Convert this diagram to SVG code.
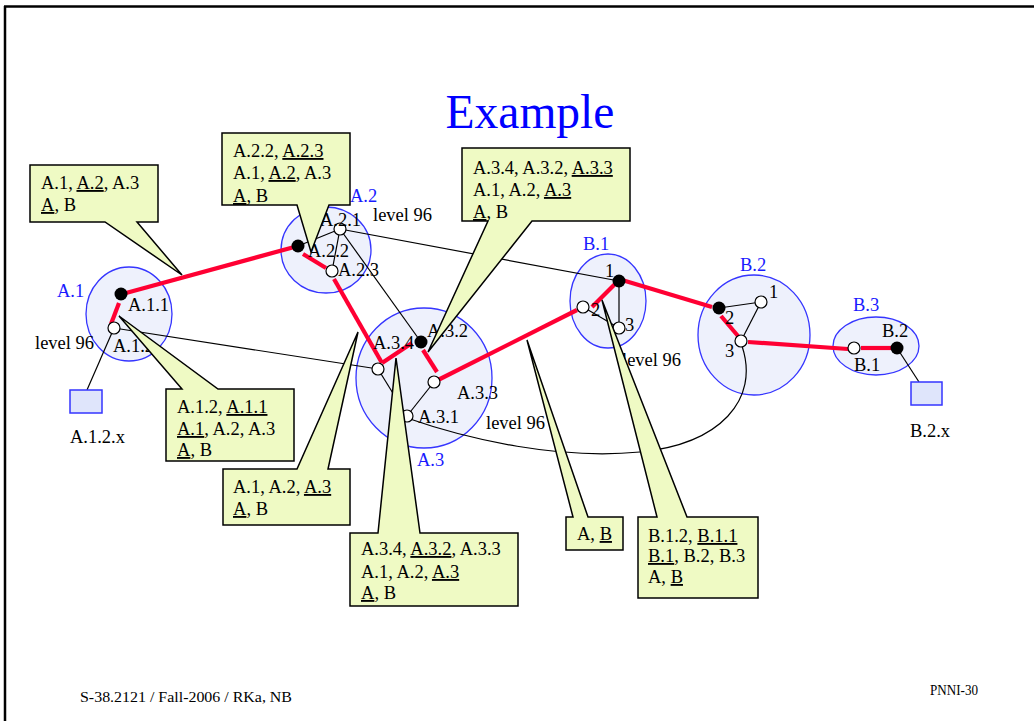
<svg xmlns="http://www.w3.org/2000/svg" width="1034" height="721" viewBox="0 0 1034 721">
<style>
text{font-family:"Liberation Serif","Times New Roman",serif;font-size:18.5px;fill:#000}
.blue{fill:#1a1aff}
.title{font-size:47.5px;fill:#0000ff}
.foot{font-size:14.5px}
.area{fill:#eef1fc;stroke:#3535ff;stroke-width:1.3}
.thin{stroke:#000;stroke-width:1.2;fill:none}
.red{stroke:#ff0033;stroke-width:4.2;fill:none}
.wn{fill:#fff;stroke:#000;stroke-width:1.2}
.bn{fill:#000}
.call{fill:#effac4;stroke:#000;stroke-width:1.5;stroke-linejoin:miter}
.host{fill:#dfe5fb;stroke:#3535ff;stroke-width:1.5}
.u{text-decoration:underline}
</style>
<rect width="1034" height="721" fill="#fff"/>
<g id="frame">
<line x1="4" y1="6.5" x2="1034" y2="6.5" stroke="#000" stroke-width="2.5"/>
<line x1="5" y1="6" x2="5" y2="721" stroke="#000" stroke-width="2.5"/>
</g>
<text class="title" x="530" y="128" text-anchor="middle">Example</text>

<g id="areas">
<ellipse id="A1" class="area" cx="129" cy="314" rx="43" ry="47"/>
<ellipse id="A2" class="area" cx="326" cy="250" rx="45" ry="43"/>
<ellipse id="A3" class="area" cx="424" cy="378" rx="68" ry="70"/>
<ellipse id="B1" class="area" cx="608" cy="301" rx="38" ry="47"/>
<ellipse id="B2" class="area" cx="754" cy="335" rx="56" ry="60"/>
<ellipse id="B3" class="area" cx="876" cy="346" rx="43" ry="29"/>
</g>

<g id="connectors">
<line class="thin" x1="114" y1="328" x2="87" y2="390"/>
<line class="thin" x1="114" y1="328" x2="378" y2="369"/>
<line class="thin" x1="298" y1="246" x2="340" y2="229"/>
<line class="thin" x1="340" y1="229" x2="332" y2="271"/>
<line class="thin" x1="340" y1="229" x2="421" y2="342"/>
<line class="thin" x1="340" y1="229" x2="619" y2="281"/>
<line class="thin" x1="378" y1="369" x2="407" y2="416"/>
<line class="thin" x1="434" y1="382" x2="407" y2="416"/>
<path class="thin" d="M407 418 C470 440 560 460 640 452 C720 444 760 400 742 346"/>
<line class="thin" x1="619" y1="281" x2="619" y2="328"/>
<line class="thin" x1="583" y1="307" x2="619" y2="328"/>
<line class="thin" x1="719" y1="308" x2="761" y2="302"/>
<line class="thin" x1="761" y1="302" x2="741" y2="341"/>
<line class="thin" x1="897" y1="348" x2="919" y2="382"/>

<line class="red" x1="119" y1="303" x2="111" y2="324"/>
<line class="red" x1="126" y1="293" x2="298" y2="246"/>
<line class="red" x1="303" y1="254" x2="326" y2="268"/>
<line class="red" x1="334" y1="279" x2="382" y2="363"/>
<line class="red" x1="382" y1="363" x2="412" y2="343"/>
<line class="red" x1="423" y1="350" x2="437" y2="372"/>
<line class="red" x1="438" y1="380" x2="577" y2="310"/>
<line class="red" x1="592" y1="307" x2="615" y2="284"/>
<line class="red" x1="622" y1="280" x2="712" y2="307"/>
<line class="red" x1="721" y1="316" x2="738" y2="336"/>
<line class="red" x1="748" y1="342" x2="848" y2="349"/>
<line class="red" x1="861" y1="348" x2="891" y2="348"/>
</g>

<g id="nodes">
<circle class="bn" cx="121" cy="294" r="6.5"/>
<circle class="wn" cx="114" cy="328" r="6"/>
<circle class="wn" cx="340" cy="229" r="6"/>
<circle class="bn" cx="298" cy="246" r="6.5"/>
<circle class="wn" cx="332" cy="271" r="6"/>
<circle class="bn" cx="421" cy="342" r="6.5"/>
<circle class="wn" cx="378" cy="369" r="6"/>
<circle class="wn" cx="434" cy="382" r="6"/>
<circle class="wn" cx="407" cy="416" r="6"/>
<circle class="bn" cx="619" cy="281" r="6.5"/>
<circle class="wn" cx="583" cy="307" r="6"/>
<circle class="wn" cx="619" cy="328" r="6"/>
<circle class="bn" cx="719" cy="308" r="6.5"/>
<circle class="wn" cx="761" cy="302" r="6"/>
<circle class="wn" cx="741" cy="341" r="6"/>
<circle class="wn" cx="854" cy="348" r="6"/>
<circle class="bn" cx="897" cy="348" r="6.5"/>
<rect class="host" x="70" y="390" width="32" height="23"/>
<rect class="host" x="911" y="382" width="31" height="23"/>
</g>

<g id="labels">
<text class="blue" x="57" y="297">A.1</text>
<text class="blue" x="350" y="202">A.2</text>
<text class="blue" x="417" y="466">A.3</text>
<text class="blue" x="583" y="250">B.1</text>
<text class="blue" x="740" y="271">B.2</text>
<text class="blue" x="853" y="311">B.3</text>
<text x="128" y="311">A.1.1</text>
<text x="113" y="352">A.1.2</text>
<text x="35" y="349">level 96</text>
<text x="70" y="443">A.1.2.x</text>
<text x="320" y="226">A.2.1</text>
<text x="308" y="257">A.2.2</text>
<text x="338" y="276">A.2.3</text>
<text x="373" y="221">level 96</text>
<text x="427" y="337">A.3.2</text>
<text x="373" y="349">A.3.4</text>
<text x="457" y="399">A.3.3</text>
<text x="418" y="423">A.3.1</text>
<text x="486" y="429">level 96</text>
<text x="605" y="277">1</text>
<text x="591" y="316">2</text>
<text x="625" y="331">3</text>
<text x="622" y="366">level 96</text>
<text x="769" y="298">1</text>
<text x="725" y="324">2</text>
<text x="725" y="357">3</text>
<text x="882" y="337">B.2</text>
<text x="854" y="371">B.1</text>
<text x="910" y="437">B.2.x</text>
</g>

<g id="callout1">
<path class="call" d="M30 165 H158 V222 H137 L182 275 L105 222 H30 Z"/>
<text x="41" y="189">A.1, <tspan class="u">A.2</tspan>, A.3</text>
<text x="41" y="211"><tspan class="u">A</tspan>, B</text>
</g>
<g id="callout2">
<path class="call" d="M222 133 H350 V205 H329 L311 252 L297 205 H222 Z"/>
<text x="233" y="157">A.2.2, <tspan class="u">A.2.3</tspan></text>
<text x="233" y="179">A.1, <tspan class="u">A.2</tspan>, A.3</text>
<text x="233" y="202"><tspan class="u">A</tspan>, B</text>
</g>
<g id="callout3">
<path class="call" d="M462 148 H630 V221 H532 L428 352 L488 221 H462 Z"/>
<text x="473" y="174">A.3.4, A.3.2, <tspan class="u">A.3.3</tspan></text>
<text x="473" y="196">A.1, A.2, <tspan class="u">A.3</tspan></text>
<text x="473" y="218"><tspan class="u">A</tspan>, B</text>
</g>
<g id="callout4">
<path class="call" d="M166 389 H182 L119 316 L218 389 H294 V461 H166 Z"/>
<text x="177" y="413">A.1.2, <tspan class="u">A.1.1</tspan></text>
<text x="177" y="435"><tspan class="u">A.1</tspan>, A.2, A.3</text>
<text x="177" y="456"><tspan class="u">A</tspan>, B</text>
</g>
<g id="callout5">
<path class="call" d="M223 469 H297 L358 332 L328 469 H350 V525 H223 Z"/>
<text x="233" y="493">A.1, A.2, <tspan class="u">A.3</tspan></text>
<text x="233" y="515"><tspan class="u">A</tspan>, B</text>
</g>
<g id="callout6">
<path class="call" d="M350 533 H378 L396 358 L420 533 H518 V606 H350 Z"/>
<text x="361" y="555">A.3.4, <tspan class="u">A.3.2</tspan>, A.3.3</text>
<text x="361" y="578">A.1, A.2, <tspan class="u">A.3</tspan></text>
<text x="361" y="599"><tspan class="u">A</tspan>, B</text>
</g>
<g id="callout7">
<path class="call" d="M566 517 H573 L527 340 L588 517 H623 V550 H566 Z"/>
<text x="577" y="540">A, <tspan class="u">B</tspan></text>
</g>
<g id="callout8">
<path class="call" d="M638 517 H657 L602 300 L687 517 H758 V598 H638 Z"/>
<text x="648" y="542">B.1.2, <tspan class="u">B.1.1</tspan></text>
<text x="648" y="562"><tspan class="u">B.1</tspan>, B.2, B.3</text>
<text x="648" y="583">A, <tspan class="u">B</tspan></text>
</g>

<g id="footer">
<text class="foot" x="80" y="702" textLength="212" lengthAdjust="spacingAndGlyphs">S-38.2121 / Fall-2006 / RKa, NB</text>
<text class="foot" x="930" y="695" textLength="48" lengthAdjust="spacingAndGlyphs">PNNI-30</text>
</g>
</svg>
